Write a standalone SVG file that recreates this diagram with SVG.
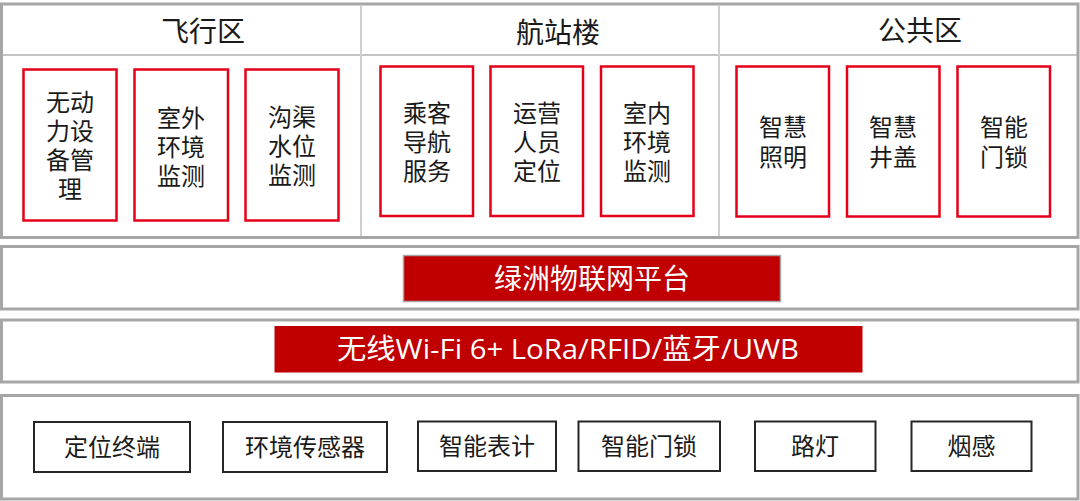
<svg xmlns="http://www.w3.org/2000/svg" width="1080" height="501" viewBox="0 0 1080 501">
<style>
.panel{fill:#fff;stroke:#a6a6a6;stroke-width:3}
.div{stroke:#cfcfcf;stroke-width:2;fill:none}
.hdr{stroke:#b0b0b0;stroke-width:1.5;fill:none}
.rbox{fill:#fff;stroke:#e5001a;stroke-width:2.5}
.dbox{fill:#fff;stroke:#262626;stroke-width:2}
.bar{fill:#c00000}
.t{font-family:"Noto Sans CJK SC","Microsoft YaHei",sans-serif;fill:#1a1a1a;text-anchor:middle}
.title{font-size:28px}
.lbl{font-size:24px}
.wt{font-family:"Open Sans","Noto Sans CJK SC",sans-serif;fill:#fff;font-size:28px;text-anchor:middle}
</style>
<rect width="1080" height="501" fill="#fff"/>

<g id="top-panel">
<rect class="panel" x="1.5" y="4" width="1076.5" height="233.5"/>
<line class="hdr" x1="3" y1="55" x2="1077" y2="55"/>
<line class="div" x1="361" y1="5.5" x2="361" y2="236"/>
<line class="div" x1="719" y1="5.5" x2="719" y2="236"/>
<text class="t title" x="203" y="42">飞行区</text>
<text class="t title" x="558" y="43">航站楼</text>
<text class="t title" x="920" y="41">公共区</text>
</g>

<g id="node-wudongli">
<rect class="rbox" x="23.5" y="69.5" width="93" height="151"/>
<text class="t lbl" x="70" y="111"><tspan x="70">无动</tspan><tspan x="70" dy="29">力设</tspan><tspan x="70" dy="29">备管</tspan><tspan x="70" dy="29">理</tspan></text>
</g>
<g id="node-shiwai">
<rect class="rbox" x="134.5" y="69.5" width="93.5" height="151"/>
<text class="t lbl" x="181" y="127"><tspan x="181">室外</tspan><tspan x="181" dy="29">环境</tspan><tspan x="181" dy="29">监测</tspan></text>
</g>
<g id="node-gouqu">
<rect class="rbox" x="245.5" y="69.5" width="93" height="151"/>
<text class="t lbl" x="292" y="126"><tspan x="292">沟渠</tspan><tspan x="292" dy="29">水位</tspan><tspan x="292" dy="29">监测</tspan></text>
</g>

<g id="node-chengke">
<rect class="rbox" x="380.5" y="66.5" width="92.5" height="149.5"/>
<text class="t lbl" x="427" y="122"><tspan x="427">乘客</tspan><tspan x="427" dy="29">导航</tspan><tspan x="427" dy="29">服务</tspan></text>
</g>
<g id="node-yunying">
<rect class="rbox" x="490.5" y="66.5" width="92.5" height="149.5"/>
<text class="t lbl" x="537" y="122"><tspan x="537">运营</tspan><tspan x="537" dy="29">人员</tspan><tspan x="537" dy="29">定位</tspan></text>
</g>
<g id="node-shinei">
<rect class="rbox" x="601" y="66.5" width="92.5" height="149.5"/>
<text class="t lbl" x="647" y="122"><tspan x="647">室内</tspan><tspan x="647" dy="29">环境</tspan><tspan x="647" dy="29">监测</tspan></text>
</g>

<g id="node-zhaoming">
<rect class="rbox" x="736.5" y="66.5" width="92.5" height="150"/>
<text class="t lbl" x="783" y="136"><tspan x="783">智慧</tspan><tspan x="783" dy="30">照明</tspan></text>
</g>
<g id="node-jinggai">
<rect class="rbox" x="847" y="66.5" width="92.5" height="150"/>
<text class="t lbl" x="893" y="136"><tspan x="893">智慧</tspan><tspan x="893" dy="30">井盖</tspan></text>
</g>
<g id="node-mensuo-top">
<rect class="rbox" x="957.5" y="66.5" width="92.5" height="150"/>
<text class="t lbl" x="1004" y="136"><tspan x="1004">智能</tspan><tspan x="1004" dy="30">门锁</tspan></text>
</g>

<g id="platform-layer">
<rect class="panel" x="1.5" y="246.5" width="1076.5" height="62.5"/>
<rect class="bar" x="403.5" y="255.5" width="377" height="46" stroke="#a6a6a6" stroke-width="1.5"/>
<text class="wt" x="592" y="289">绿洲物联网平台</text>
</g>

<g id="network-layer">
<rect class="panel" x="1.5" y="320" width="1076.5" height="62"/>
<rect class="bar" x="274.5" y="326" width="588" height="46.5"/>
<text class="wt" x="568" y="358.5" textLength="462" lengthAdjust="spacingAndGlyphs">无线Wi-Fi 6+ LoRa/RFID/蓝牙/UWB</text>
</g>

<g id="device-layer">
<rect class="panel" x="1.5" y="395.5" width="1076.5" height="103.5"/>
</g>
<g id="node-dingwei">
<rect class="dbox" x="34" y="422" width="156" height="50"/>
<text class="t lbl" x="112" y="455.5">定位终端</text>
</g>
<g id="node-huanjing">
<rect class="dbox" x="223" y="422" width="164" height="50"/>
<text class="t lbl" x="305" y="455.5">环境传感器</text>
</g>
<g id="node-biaoji">
<rect class="dbox" x="418" y="421.5" width="138" height="49.5"/>
<text class="t lbl" x="487" y="455">智能表计</text>
</g>
<g id="node-mensuo">
<rect class="dbox" x="578.5" y="421.5" width="141.5" height="49.5"/>
<text class="t lbl" x="649" y="455">智能门锁</text>
</g>
<g id="node-ludeng">
<rect class="dbox" x="755" y="421.5" width="120.5" height="49.5"/>
<text class="t lbl" x="815" y="455">路灯</text>
</g>
<g id="node-yangan">
<rect class="dbox" x="911.5" y="421.5" width="120" height="49.5"/>
<text class="t lbl" x="971.5" y="455">烟感</text>
</g>

<g id="connectors"></g>
</svg>
